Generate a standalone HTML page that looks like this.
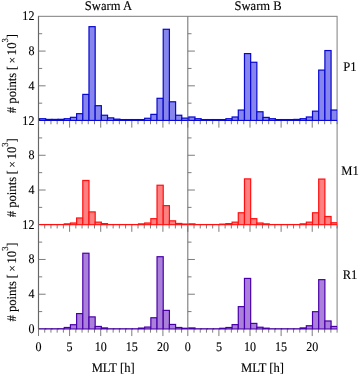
<!DOCTYPE html>
<html><head><meta charset="utf-8"><title>Swarm MLT histograms</title>
<style>html,body{margin:0;padding:0;background:#fff;overflow:hidden}svg{display:block;font-family:"Liberation Serif","DejaVu Serif",serif;font-size:13.1px}text{text-rendering:geometricPrecision;fill:#000;stroke:#000;stroke-width:0.12px}</style></head>
<body>
<svg width="359" height="375" viewBox="0 0 359 375">
<rect width="359" height="375" fill="#fff"/>
<g>
<g stroke="#8a8a8a" stroke-width="1.1" fill="none">
<rect x="38.5" y="16.35" width="298.6" height="312.6"/>
<line x1="187.8" y1="16.35" x2="187.8" y2="328.95" stroke="#787878"/>
<line x1="38.5" y1="16.35" x2="38.5" y2="328.95" stroke="#666666"/>
<line x1="38.5" y1="120.55" x2="337.1" y2="120.55"/>
<line x1="38.5" y1="224.75" x2="337.1" y2="224.75"/>
<path d="M38.5 103.18h3.7 M38.5 85.82h7.1 M38.5 68.45h3.7 M38.5 51.08h7.1 M38.5 33.72h3.7 M38.5 120.55v7.1 M44.72 120.55v3.7 M50.94 120.55v3.7 M57.16 120.55v3.7 M63.38 120.55v3.7 M69.6 120.55v7.1 M75.83 120.55v3.7 M82.05 120.55v3.7 M88.27 120.55v3.7 M94.49 120.55v3.7 M100.71 120.55v7.1 M106.93 120.55v3.7 M113.15 120.55v3.7 M119.37 120.55v3.7 M125.59 120.55v3.7 M131.81 120.55v7.1 M138.03 120.55v3.7 M144.25 120.55v3.7 M150.48 120.55v3.7 M156.7 120.55v3.7 M162.92 120.55v7.1 M169.14 120.55v3.7 M175.36 120.55v3.7 M181.58 120.55v3.7 M38.5 207.38h3.7 M38.5 190.02h7.1 M38.5 172.65h3.7 M38.5 155.28h7.1 M38.5 137.92h3.7 M38.5 224.75v7.1 M44.72 224.75v3.7 M50.94 224.75v3.7 M57.16 224.75v3.7 M63.38 224.75v3.7 M69.6 224.75v7.1 M75.83 224.75v3.7 M82.05 224.75v3.7 M88.27 224.75v3.7 M94.49 224.75v3.7 M100.71 224.75v7.1 M106.93 224.75v3.7 M113.15 224.75v3.7 M119.37 224.75v3.7 M125.59 224.75v3.7 M131.81 224.75v7.1 M138.03 224.75v3.7 M144.25 224.75v3.7 M150.48 224.75v3.7 M156.7 224.75v3.7 M162.92 224.75v7.1 M169.14 224.75v3.7 M175.36 224.75v3.7 M181.58 224.75v3.7 M38.5 311.58h3.7 M38.5 294.22h7.1 M38.5 276.85h3.7 M38.5 259.48h7.1 M38.5 242.12h3.7 M38.5 328.95v7.1 M44.72 328.95v3.7 M50.94 328.95v3.7 M57.16 328.95v3.7 M63.38 328.95v3.7 M69.6 328.95v7.1 M75.83 328.95v3.7 M82.05 328.95v3.7 M88.27 328.95v3.7 M94.49 328.95v3.7 M100.71 328.95v7.1 M106.93 328.95v3.7 M113.15 328.95v3.7 M119.37 328.95v3.7 M125.59 328.95v3.7 M131.81 328.95v7.1 M138.03 328.95v3.7 M144.25 328.95v3.7 M150.48 328.95v3.7 M156.7 328.95v3.7 M162.92 328.95v7.1 M169.14 328.95v3.7 M175.36 328.95v3.7 M181.58 328.95v3.7 M187.8 103.18h3.7 M187.8 85.82h7.1 M187.8 68.45h3.7 M187.8 51.08h7.1 M187.8 33.72h3.7 M187.8 120.55v7.1 M194.02 120.55v3.7 M200.24 120.55v3.7 M206.46 120.55v3.7 M212.68 120.55v3.7 M218.9 120.55v7.1 M225.12 120.55v3.7 M231.35 120.55v3.7 M237.57 120.55v3.7 M243.79 120.55v3.7 M250.01 120.55v7.1 M256.23 120.55v3.7 M262.45 120.55v3.7 M268.67 120.55v3.7 M274.89 120.55v3.7 M281.11 120.55v7.1 M287.33 120.55v3.7 M293.55 120.55v3.7 M299.78 120.55v3.7 M306 120.55v3.7 M312.22 120.55v7.1 M318.44 120.55v3.7 M324.66 120.55v3.7 M330.88 120.55v3.7 M337.1 120.55v3.7 M187.8 207.38h3.7 M187.8 190.02h7.1 M187.8 172.65h3.7 M187.8 155.28h7.1 M187.8 137.92h3.7 M187.8 224.75v7.1 M194.02 224.75v3.7 M200.24 224.75v3.7 M206.46 224.75v3.7 M212.68 224.75v3.7 M218.9 224.75v7.1 M225.12 224.75v3.7 M231.35 224.75v3.7 M237.57 224.75v3.7 M243.79 224.75v3.7 M250.01 224.75v7.1 M256.23 224.75v3.7 M262.45 224.75v3.7 M268.67 224.75v3.7 M274.89 224.75v3.7 M281.11 224.75v7.1 M287.33 224.75v3.7 M293.55 224.75v3.7 M299.78 224.75v3.7 M306 224.75v3.7 M312.22 224.75v7.1 M318.44 224.75v3.7 M324.66 224.75v3.7 M330.88 224.75v3.7 M337.1 224.75v3.7 M187.8 311.58h3.7 M187.8 294.22h7.1 M187.8 276.85h3.7 M187.8 259.48h7.1 M187.8 242.12h3.7 M187.8 328.95v7.1 M194.02 328.95v3.7 M200.24 328.95v3.7 M206.46 328.95v3.7 M212.68 328.95v3.7 M218.9 328.95v7.1 M225.12 328.95v3.7 M231.35 328.95v3.7 M237.57 328.95v3.7 M243.79 328.95v3.7 M250.01 328.95v7.1 M256.23 328.95v3.7 M262.45 328.95v3.7 M268.67 328.95v3.7 M274.89 328.95v3.7 M281.11 328.95v7.1 M287.33 328.95v3.7 M293.55 328.95v3.7 M299.78 328.95v3.7 M306 328.95v3.7 M312.22 328.95v7.1 M318.44 328.95v3.7 M324.66 328.95v3.7 M330.88 328.95v3.7 M337.1 328.95v3.7" stroke="#6e6e6e" stroke-width="0.9"/>
</g>
<defs>
<clipPath id="c00"><rect x="38.2" y="16.35" width="149.7" height="104.55"/></clipPath>
<clipPath id="c01"><rect x="38.2" y="120.55" width="149.7" height="104.65"/></clipPath>
<clipPath id="c02"><rect x="38.2" y="224.75" width="149.7" height="104.75"/></clipPath>
<clipPath id="c10"><rect x="187.5" y="16.35" width="149.7" height="104.55"/></clipPath>
<clipPath id="c11"><rect x="187.5" y="120.55" width="149.7" height="104.65"/></clipPath>
<clipPath id="c12"><rect x="187.5" y="224.75" width="149.7" height="104.75"/></clipPath>
</defs>
<g fill="#8686ec" stroke="#0808d0" stroke-width="1.2" stroke-linejoin="miter" clip-path="url(#c00)">
<rect x="39.5" y="118.71" width="6.19" height="1.74"/>
<rect x="45.69" y="119.41" width="6.19" height="1.04"/>
<rect x="51.87" y="119.41" width="6.19" height="1.04"/>
<rect x="58.06" y="119.32" width="6.19" height="1.13"/>
<rect x="64.24" y="118.71" width="6.19" height="1.74"/>
<rect x="70.43" y="117.32" width="6.19" height="3.13"/>
<rect x="76.62" y="113.68" width="6.19" height="6.77"/>
<rect x="82.8" y="94.4" width="6.19" height="26.05"/>
<rect x="88.99" y="26.67" width="6.19" height="93.78"/>
<rect x="95.17" y="105.69" width="6.19" height="14.76"/>
<rect x="101.36" y="115.24" width="6.19" height="5.21"/>
<rect x="107.54" y="117.85" width="6.19" height="2.6"/>
<rect x="113.73" y="119.15" width="6.19" height="1.3"/>
<rect x="119.92" y="119.58" width="6.19" height="0.87"/>
<rect x="126.1" y="119.58" width="6.19" height="0.87"/>
<rect x="132.29" y="119.58" width="6.19" height="0.87"/>
<rect x="138.47" y="119.58" width="6.19" height="0.87"/>
<rect x="144.66" y="118.28" width="6.19" height="2.17"/>
<rect x="150.85" y="114.37" width="6.19" height="6.08"/>
<rect x="157.03" y="98.31" width="6.19" height="22.14"/>
<rect x="163.22" y="29.28" width="6.19" height="91.17"/>
<rect x="169.4" y="101.78" width="6.19" height="18.67"/>
<rect x="175.59" y="115.24" width="6.19" height="5.21"/>
<rect x="181.77" y="118.11" width="6.19" height="2.34"/>
</g>
<g fill="#ff8080" stroke="#ff1010" stroke-width="1.2" stroke-linejoin="miter" clip-path="url(#c01)">
<rect x="39.5" y="224.58" width="6.19" height="0.17"/>
<rect x="45.69" y="224.58" width="6.19" height="0.17"/>
<rect x="51.87" y="224.58" width="6.19" height="0.17"/>
<rect x="58.06" y="224.58" width="6.19" height="0.17"/>
<rect x="64.24" y="223.88" width="6.19" height="0.87"/>
<rect x="70.43" y="223.01" width="6.19" height="1.74"/>
<rect x="76.62" y="217.98" width="6.19" height="6.77"/>
<rect x="82.8" y="180.47" width="6.19" height="44.28"/>
<rect x="88.99" y="211.9" width="6.19" height="12.85"/>
<rect x="95.17" y="222.15" width="6.19" height="2.6"/>
<rect x="101.36" y="223.62" width="6.19" height="1.13"/>
<rect x="107.54" y="224.58" width="6.19" height="0.17"/>
<rect x="113.73" y="224.58" width="6.19" height="0.17"/>
<rect x="119.92" y="224.58" width="6.19" height="0.17"/>
<rect x="126.1" y="224.58" width="6.19" height="0.17"/>
<rect x="132.29" y="224.58" width="6.19" height="0.17"/>
<rect x="138.47" y="223.88" width="6.19" height="0.87"/>
<rect x="144.66" y="223.01" width="6.19" height="1.74"/>
<rect x="150.85" y="218.67" width="6.19" height="6.08"/>
<rect x="157.03" y="185.24" width="6.19" height="39.51"/>
<rect x="163.22" y="205.65" width="6.19" height="19.1"/>
<rect x="169.4" y="220.84" width="6.19" height="3.91"/>
<rect x="175.59" y="223.45" width="6.19" height="1.3"/>
<rect x="181.77" y="224.06" width="6.19" height="0.69"/>
</g>
<g fill="#aa80da" stroke="#4a00a8" stroke-width="1.2" stroke-linejoin="miter" clip-path="url(#c02)">
<rect x="39.5" y="328.88" width="6.19" height="0.17"/>
<rect x="45.69" y="328.88" width="6.19" height="0.17"/>
<rect x="51.87" y="328.88" width="6.19" height="0.17"/>
<rect x="58.06" y="328.79" width="6.19" height="0.26"/>
<rect x="64.24" y="327.49" width="6.19" height="1.56"/>
<rect x="70.43" y="324.71" width="6.19" height="4.34"/>
<rect x="76.62" y="313.59" width="6.19" height="15.46"/>
<rect x="82.8" y="253.24" width="6.19" height="75.81"/>
<rect x="88.99" y="316.89" width="6.19" height="12.16"/>
<rect x="95.17" y="326.45" width="6.19" height="2.6"/>
<rect x="101.36" y="327.92" width="6.19" height="1.13"/>
<rect x="107.54" y="328.88" width="6.19" height="0.17"/>
<rect x="113.73" y="328.88" width="6.19" height="0.17"/>
<rect x="119.92" y="328.88" width="6.19" height="0.17"/>
<rect x="126.1" y="328.88" width="6.19" height="0.17"/>
<rect x="132.29" y="328.88" width="6.19" height="0.17"/>
<rect x="138.47" y="328.09" width="6.19" height="0.96"/>
<rect x="144.66" y="327.05" width="6.19" height="2"/>
<rect x="150.85" y="317.76" width="6.19" height="11.29"/>
<rect x="157.03" y="256.72" width="6.19" height="72.33"/>
<rect x="163.22" y="310.38" width="6.19" height="18.67"/>
<rect x="169.4" y="324.45" width="6.19" height="4.6"/>
<rect x="175.59" y="327.49" width="6.19" height="1.56"/>
<rect x="181.77" y="328.27" width="6.19" height="0.78"/>
</g>
<g fill="#8686ec" stroke="#0808d0" stroke-width="1.2" stroke-linejoin="miter" clip-path="url(#c10)">
<rect x="188.8" y="116.98" width="6.19" height="3.47"/>
<rect x="194.99" y="118.71" width="6.19" height="1.74"/>
<rect x="201.17" y="119.58" width="6.19" height="0.87"/>
<rect x="207.36" y="119.58" width="6.19" height="0.87"/>
<rect x="213.54" y="119.58" width="6.19" height="0.87"/>
<rect x="219.73" y="119.58" width="6.19" height="0.87"/>
<rect x="225.92" y="118.71" width="6.19" height="1.74"/>
<rect x="232.1" y="116.98" width="6.19" height="3.47"/>
<rect x="238.29" y="110.03" width="6.19" height="10.42"/>
<rect x="244.47" y="53.59" width="6.19" height="66.86"/>
<rect x="250.66" y="62.27" width="6.19" height="58.18"/>
<rect x="256.84" y="111.77" width="6.19" height="8.68"/>
<rect x="263.03" y="117.41" width="6.19" height="3.04"/>
<rect x="269.22" y="118.71" width="6.19" height="1.74"/>
<rect x="275.4" y="119.58" width="6.19" height="0.87"/>
<rect x="281.59" y="119.58" width="6.19" height="0.87"/>
<rect x="287.77" y="119.58" width="6.19" height="0.87"/>
<rect x="293.96" y="119.41" width="6.19" height="1.04"/>
<rect x="300.15" y="118.71" width="6.19" height="1.74"/>
<rect x="306.33" y="116.98" width="6.19" height="3.47"/>
<rect x="312.52" y="111.16" width="6.19" height="9.29"/>
<rect x="318.7" y="70.09" width="6.19" height="50.36"/>
<rect x="324.89" y="50.55" width="6.19" height="69.9"/>
<rect x="331.07" y="110.03" width="6.19" height="10.42"/>
</g>
<g fill="#ff8080" stroke="#ff1010" stroke-width="1.2" stroke-linejoin="miter" clip-path="url(#c11)">
<rect x="188.8" y="223.88" width="6.19" height="0.87"/>
<rect x="194.99" y="224.58" width="6.19" height="0.17"/>
<rect x="201.17" y="224.58" width="6.19" height="0.17"/>
<rect x="207.36" y="224.58" width="6.19" height="0.17"/>
<rect x="213.54" y="224.58" width="6.19" height="0.17"/>
<rect x="219.73" y="224.14" width="6.19" height="0.61"/>
<rect x="225.92" y="223.62" width="6.19" height="1.13"/>
<rect x="232.1" y="222.15" width="6.19" height="2.6"/>
<rect x="238.29" y="212.77" width="6.19" height="11.98"/>
<rect x="244.47" y="178.9" width="6.19" height="45.85"/>
<rect x="250.66" y="218.67" width="6.19" height="6.08"/>
<rect x="256.84" y="223.01" width="6.19" height="1.74"/>
<rect x="263.03" y="223.88" width="6.19" height="0.87"/>
<rect x="269.22" y="224.58" width="6.19" height="0.17"/>
<rect x="275.4" y="224.58" width="6.19" height="0.17"/>
<rect x="281.59" y="224.58" width="6.19" height="0.17"/>
<rect x="287.77" y="224.58" width="6.19" height="0.17"/>
<rect x="293.96" y="224.58" width="6.19" height="0.17"/>
<rect x="300.15" y="223.88" width="6.19" height="0.87"/>
<rect x="306.33" y="222.15" width="6.19" height="2.6"/>
<rect x="312.52" y="212.77" width="6.19" height="11.98"/>
<rect x="318.7" y="179.08" width="6.19" height="45.67"/>
<rect x="324.89" y="216.5" width="6.19" height="8.25"/>
<rect x="331.07" y="222.75" width="6.19" height="2"/>
</g>
<g fill="#aa80da" stroke="#4a00a8" stroke-width="1.2" stroke-linejoin="miter" clip-path="url(#c12)">
<rect x="188.8" y="327.92" width="6.19" height="1.13"/>
<rect x="194.99" y="328.88" width="6.19" height="0.17"/>
<rect x="201.17" y="328.88" width="6.19" height="0.17"/>
<rect x="207.36" y="328.88" width="6.19" height="0.17"/>
<rect x="213.54" y="328.88" width="6.19" height="0.17"/>
<rect x="219.73" y="328.27" width="6.19" height="0.78"/>
<rect x="225.92" y="327.49" width="6.19" height="1.56"/>
<rect x="232.1" y="324.62" width="6.19" height="4.43"/>
<rect x="238.29" y="306.65" width="6.19" height="22.4"/>
<rect x="244.47" y="278.43" width="6.19" height="50.62"/>
<rect x="250.66" y="323.41" width="6.19" height="5.64"/>
<rect x="256.84" y="327.23" width="6.19" height="1.82"/>
<rect x="263.03" y="328.18" width="6.19" height="0.87"/>
<rect x="269.22" y="328.88" width="6.19" height="0.17"/>
<rect x="275.4" y="328.88" width="6.19" height="0.17"/>
<rect x="281.59" y="328.88" width="6.19" height="0.17"/>
<rect x="287.77" y="328.88" width="6.19" height="0.17"/>
<rect x="293.96" y="328.88" width="6.19" height="0.17"/>
<rect x="300.15" y="327.92" width="6.19" height="1.13"/>
<rect x="306.33" y="325.75" width="6.19" height="3.3"/>
<rect x="312.52" y="311.68" width="6.19" height="17.37"/>
<rect x="318.7" y="279.64" width="6.19" height="49.41"/>
<rect x="324.89" y="320.97" width="6.19" height="8.08"/>
<rect x="331.07" y="326.45" width="6.19" height="2.6"/>
</g>
<text transform="translate(34.4 20.35) scale(0.92 1)" text-anchor="end">12</text>
<text transform="translate(34.4 55.08) scale(0.92 1)" text-anchor="end">8</text>
<text transform="translate(34.4 89.82) scale(0.92 1)" text-anchor="end">4</text>
<text transform="translate(34.4 124.55) scale(0.92 1)" text-anchor="end">12</text>
<text transform="translate(34.4 159.28) scale(0.92 1)" text-anchor="end">8</text>
<text transform="translate(34.4 194.02) scale(0.92 1)" text-anchor="end">4</text>
<text transform="translate(34.4 228.75) scale(0.92 1)" text-anchor="end">12</text>
<text transform="translate(34.4 263.48) scale(0.92 1)" text-anchor="end">8</text>
<text transform="translate(34.4 298.22) scale(0.92 1)" text-anchor="end">4</text>
<text transform="translate(34.4 332.95) scale(0.92 1)" text-anchor="end">0</text>
<text transform="translate(38.5 351.2) scale(0.92 1)" text-anchor="middle">0</text>
<text transform="translate(69.6 351.2) scale(0.92 1)" text-anchor="middle">5</text>
<text transform="translate(100.71 351.2) scale(0.92 1)" text-anchor="middle">10</text>
<text transform="translate(131.81 351.2) scale(0.92 1)" text-anchor="middle">15</text>
<text transform="translate(162.92 351.2) scale(0.92 1)" text-anchor="middle">20</text>
<text transform="translate(113.15 371.5) scale(0.96 1)" text-anchor="middle">MLT [h]</text>
<text transform="translate(187.8 351.2) scale(0.92 1)" text-anchor="middle">0</text>
<text transform="translate(218.9 351.2) scale(0.92 1)" text-anchor="middle">5</text>
<text transform="translate(250.01 351.2) scale(0.92 1)" text-anchor="middle">10</text>
<text transform="translate(281.11 351.2) scale(0.92 1)" text-anchor="middle">15</text>
<text transform="translate(312.22 351.2) scale(0.92 1)" text-anchor="middle">20</text>
<text transform="translate(262.45 371.5) scale(0.96 1)" text-anchor="middle">MLT [h]</text>
<text transform="translate(108.4 10.1) scale(0.96 1)" text-anchor="middle">Swarm A</text>
<text transform="translate(258.1 10.1) scale(0.96 1)" text-anchor="middle">Swarm B</text>
<text transform="translate(16.3 113.15) rotate(-90) scale(0.96 1)" font-size="13.2"># points<tspan dx="-0.7"> [ </tspan><tspan dx="-0.4" dy="0" font-size="11.5">×</tspan><tspan dx="-1.4" dy="0"> 10</tspan><tspan dx="0" dy="-8.4" font-size="9.2">3</tspan><tspan dx="-0.2" dy="8.4">]</tspan></text>
<text transform="translate(16.3 217.35) rotate(-90) scale(0.96 1)" font-size="13.2"># points<tspan dx="-0.7"> [ </tspan><tspan dx="-0.4" dy="0" font-size="11.5">×</tspan><tspan dx="-1.4" dy="0"> 10</tspan><tspan dx="0" dy="-8.4" font-size="9.2">3</tspan><tspan dx="-0.2" dy="8.4">]</tspan></text>
<text transform="translate(16.3 321.55) rotate(-90) scale(0.96 1)" font-size="13.2"># points<tspan dx="-0.7"> [ </tspan><tspan dx="-0.4" dy="0" font-size="11.5">×</tspan><tspan dx="-1.4" dy="0"> 10</tspan><tspan dx="0" dy="-8.4" font-size="9.2">3</tspan><tspan dx="-0.2" dy="8.4">]</tspan></text>
<text transform="translate(350 70.85) scale(0.96 1)" text-anchor="middle">P1</text>
<text transform="translate(350 175.05) scale(0.96 1)" text-anchor="middle">M1</text>
<text transform="translate(350 279.25) scale(0.96 1)" text-anchor="middle">R1</text>
</g>
</svg>
</body></html>
